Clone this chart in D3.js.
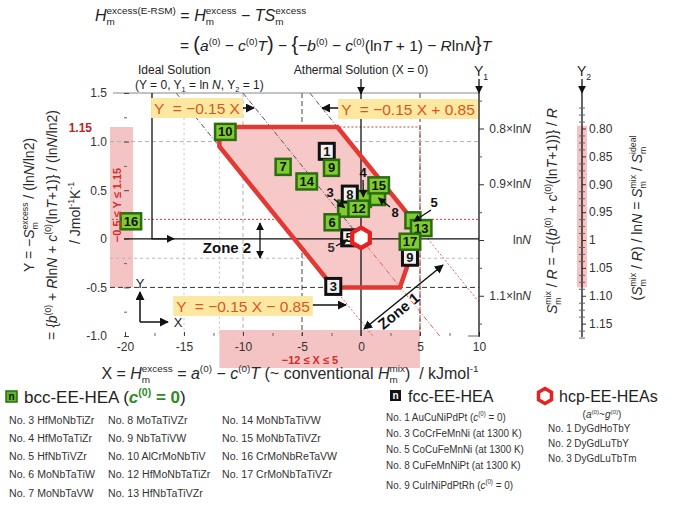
<!DOCTYPE html>
<html><head><meta charset="utf-8">
<script src="https://cdn.jsdelivr.net/npm/d3@7"></script>
<style>
body{margin:0;background:#fff}
svg{display:block}
text{font-family:"Liberation Sans",Arial,sans-serif;white-space:pre}
</style></head>
<body><svg id="c" width="680" height="506"></svg>
<script>
// ---------------- data ----------------
const xTicks = [-20, -15, -10, -5, 0, 5, 10];
const xTickLabels = ["-20", "-15", "-10", "-5", "0", "5", "10"];
const yTicks = [-1.0, -0.5, 0, 0.5, 1.0, 1.5];
const yTickLabels = ["-1.0", "-0.5", "0", "0.5", "1.0", "1.5"];
const y1Ticks = [0.8, 0.9, 1.0, 1.1];
const y1TickPrefix = ["0.8×ln", "0.9×ln", "ln", "1.1×ln"];
const y2Ticks = [0.80, 0.85, 0.90, 0.95, 1.00, 1.05, 1.10, 1.15];
const y2TickLabels = ["0.80", "0.85", "0.90", "0.95", "1", "1.05", "1.10", "1.15"];

// bcc-EE-HEA (labelled squares)
const bccNo = [16, 10, 7, 14, 9, 15, 12, 6, 13, 17];
const bccX  = [-19.5, -11.5, -6.6, -4.6, -2.5, 1.5, -0.2, -2.45, 5.1, 4.15];
const bccY  = [0.18, 1.10, 0.74, 0.59, 0.73, 0.55, 0.31, 0.17, 0.11, -0.03];
// bcc-EE-HEA hidden behind others, labelled with arrows
const bccArrowNo = [3, 4, 8, 5];
const bccArrowX  = [-1.3, 0.2, 1.4, 4.4];
const bccArrowY  = [0.31, 0.41, 0.43, 0.19];
// fcc-EE-HEA
const fccNo = [1, 8, 5, 9, 3];
const fccX  = [-2.9, -0.95, -1.0, 4.15, -2.35];
const fccY  = [0.90, 0.46, 0.01, -0.19, -0.49];
// hcp-EE-HEAs
const hcpNo = [1, 2, 3];
const hcpX  = [0, 0, 0];
const hcpY  = [0.01, 0.01, 0.01];
// EE-HEA region
const regionX = [-12, -12, -2, 5, 3.3, -2.33];
const regionY = [0.95, 1.15, 1.15, 0.1, -0.5, -0.5];
const slope = -0.15;
const intercepts = [0, 0.85, -0.85];
const xLimits = [-12, 5];
const yLimits = [-0.5, 1.15];

const bccLegend = ["No. 3 HfMoNbTiZr","No. 4 HfMoTaTiZr","No. 5 HfNbTiVZr","No. 6 MoNbTaTiW","No. 7 MoNbTaVW",
  "No. 8 MoTaTiVZr","No. 9 NbTaTiVW","No. 10 AlCrMoNbTiV","No. 12 HfMoNbTaTiZr","No. 13 HfNbTaTiVZr",
  "No. 14 MoNbTaTiVW","No. 15 MoNbTaTiVZr","No. 16 CrMoNbReTaVW","No. 17 CrMoNbTaTiVZr"];
const fccLegend = ["No. 1 AuCuNiPdPt ", "No. 3 CoCrFeMnNi (at 1300 K)", "No. 5 CoCuFeMnNi (at 1300 K)", "No. 8 CuFeMnNiPt (at 1300 K)", "No. 9 CuIrNiPdPtRh "];
const fccLegendC0 = [true, false, false, false, true];
const hcpLegend = ["No. 1 DyGdHoTbY", "No. 2 DyGdLuTbY", "No. 3 DyGdLuTbTm"];

// ---------------- setup ----------------
const svg = d3.select("#c");
const x = d3.scaleLinear().domain([-20, 10]).range([125, 479]);
const y = d3.scaleLinear().domain([-1, 1.5]).range([336, 93]);
const r = d3.scaleLinear().domain([0.8, 1.0]).range([128.5, 240]);

const RED = "#e23a32", PINK = "#f4c3c3", TXT = "#2a2a2a", ORANGE = "#db561c", YEL = "#fde8a2";

const defs = svg.append("defs");
defs.append("marker").attr("id", "ah").attr("viewBox", "0 0 10 10").attr("refX", 9).attr("refY", 5)
  .attr("markerWidth", 6).attr("markerHeight", 6).attr("orient", "auto-start-reverse")
  .append("path").attr("d", "M0,0L10,5L0,10z").attr("fill", "#111");

// rich text helper
function rich(parent, parts, fs, opt = {}) {
  const g = parent.append("g");
  let cx = 0;
  const col = opt.color || TXT;
  for (const p0 of parts) {
    const p = typeof p0 === "string" ? {t: p0} : p0;
    if (p.t !== undefined) {
      const e = g.append("text").attr("x", cx).attr("y", (p.dy || 0) * fs).attr("font-size", (p.s || 1) * fs)
        .attr("fill", p.c || col).attr("font-style", p.i ? "italic" : null)
        .attr("font-weight", (p.b || opt.bold) ? "bold" : null).text(p.t);
      cx += e.node().getComputedTextLength();
    } else {
      const ss = (p.s || 0.62) * fs; let w = 0;
      if (p.sup !== undefined) {
        const e = g.append("text").attr("x", cx).attr("y", -0.42 * fs).attr("font-size", ss).attr("fill", p.c || col)
          .attr("font-weight", (p.b || opt.bold) ? "bold" : null).text(p.sup);
        w = Math.max(w, e.node().getComputedTextLength());
      }
      if (p.sub !== undefined) {
        const e = g.append("text").attr("x", cx).attr("y", 0.26 * fs).attr("font-size", ss).attr("fill", p.c || col).text(p.sub);
        w = Math.max(w, e.node().getComputedTextLength());
      }
      cx += w;
    }
  }
  return {g, w: cx};
}
function place(parent, parts, fs, px, py, anchor, rot, opt) {
  const h = parent.append("g").attr("transform", `translate(${px},${py}) rotate(${rot || 0})`);
  const res = rich(h, parts, fs, opt);
  const off = anchor === "middle" ? -res.w / 2 : anchor === "end" ? -res.w : 0;
  res.g.attr("transform", `translate(${off},0)`);
  return res;
}

// ---------------- bands ----------------
const gb = svg.append("g");
gb.append("rect").attr("x", 110).attr("width", 23).attr("y", y(yLimits[1])).attr("height", y(yLimits[0]) - y(yLimits[1])).attr("fill", PINK);
gb.append("rect").attr("x", x(xLimits[0])).attr("width", x(xLimits[1]) - x(xLimits[0])).attr("y", 330).attr("height", 38).attr("fill", PINK);

// ---------------- grid / reference lines ----------------
const gl = svg.append("g").attr("fill", "none");
function vline(v, y0, y1, col, dash, w) {
  gl.append("line").attr("x1", x(v)).attr("x2", x(v)).attr("y1", y0).attr("y2", y1)
    .attr("stroke", col).attr("stroke-dasharray", dash).attr("stroke-width", w || 1);
}
function hline(v, x0, x1, col, dash, w) {
  gl.append("line").attr("y1", y(v)).attr("y2", y(v)).attr("x1", x0).attr("x2", x1)
    .attr("stroke", col).attr("stroke-dasharray", dash).attr("stroke-width", w || 1);
}
vline(-15, y(1.5), y(-1), "#c8c8c8", "2,3");
vline(-12, y(1.0), y(-1), "#c0c0c0", "2,3");
vline(-10, y(1.5), y(-1), "#b0b0b0", "4,3");
vline(-5, y(1.5), y(-1), "#444", "5,3");
vline(5, y(1.5), y(-1), "#444", "5,3");
hline(1.0, 110, x(10), "#b0b0b0", "4,3");
hline(-0.2, 110, x(10), "#b8b8b8", "3,3");
hline(-0.5, 110, x(10), "#333", "5,3");
hline(0.2, 112, x(10), RED, "2,2");
hline(yLimits[1], x(xLimits[0]), x(xLimits[1]), RED, "2,2");
vline(xLimits[1], y(yLimits[1]), y(-1), RED, "2,2");

// region polygon fill
const pts = regionX.map((v, i) => [x(v), y(regionY[i])]);
svg.append("path").attr("d", d3.line()(pts) + "Z").attr("fill", "#f6c8c8");

// diagonal lines
const gd = svg.append("g").attr("fill", "none");
function diag(b, X0, X1, col, dash) {
  gd.append("line").attr("x1", x(X0)).attr("y1", y(slope * X0 + b)).attr("x2", x(X1)).attr("y2", y(slope * X1 + b))
    .attr("stroke", col).attr("stroke-width", 1).attr("stroke-dasharray", dash);
}
const dk = "#555", dd = "5,2,1,2", rd = "2,2";
diag(intercepts[0], (1.5 - intercepts[0]) / slope, 0, dk, dd);
diag(intercepts[0], 0, (-1 - intercepts[0]) / slope, "#e06060", dd);
diag(intercepts[1], (1.5 - intercepts[1]) / slope, 5, dk, dd);
diag(intercepts[1], 5, 10, "#e06060", rd);
diag(intercepts[2], (1.5 - intercepts[2]) / slope, -12, dk, dd);
diag(intercepts[2], -2.33, (-1 - intercepts[2]) / slope, "#e06060", rd);

// solid axes lines
svg.append("line").attr("x1", x(0)).attr("x2", x(0)).attr("y1", y(1.5)).attr("y2", y(-1)).attr("stroke", "#111").attr("stroke-width", 1.3);
svg.append("line").attr("x1", 124).attr("x2", x(10)).attr("y1", y(0)).attr("y2", y(0)).attr("stroke", "#111").attr("stroke-width", 1.3);
svg.append("line").attr("x1", 113).attr("x2", x(10)).attr("y1", y(1.5)).attr("y2", y(1.5)).attr("stroke", "#888").attr("stroke-width", 1.2);

// polygon stroke
svg.append("path").attr("d", d3.line()(pts) + "Z").attr("fill", "none").attr("stroke", RED).attr("stroke-width", 4.5).attr("stroke-linejoin", "miter");

// ---------------- axes ----------------
const axL = svg.append("g").attr("transform", "translate(124,0)")
  .call(d3.axisLeft(y).tickValues(yTicks).tickFormat((d, i) => yTickLabels[i]).tickSizeInner(-5).tickSizeOuter(0).tickPadding(17));
axL.select(".domain").remove();
axL.selectAll("line").attr("stroke", "#444");
axL.selectAll("text").attr("font-size", 12).attr("fill", "#333").attr("font-family", "Liberation Sans, Arial");
const axLm = svg.append("g").attr("transform", "translate(124,0)")
  .call(d3.axisLeft(y).tickValues(d3.range(-0.75, 1.5, 0.5)).tickFormat("").tickSizeInner(-3).tickSizeOuter(0));
axLm.select(".domain").remove(); axLm.selectAll("line").attr("stroke", "#666");

const axB = svg.append("g").attr("transform", "translate(0,336)")
  .call(d3.axisBottom(x).tickValues(xTicks).tickFormat((d, i) => xTickLabels[i]).tickSizeInner(-4).tickSizeOuter(0).tickPadding(6));
axB.select(".domain").remove();
axB.selectAll("line").attr("stroke", "#444");
axB.selectAll("text").attr("font-size", 12).attr("fill", "#333").attr("font-family", "Liberation Sans, Arial");
const axBm = svg.append("g").attr("transform", "translate(0,336)")
  .call(d3.axisBottom(x).tickValues(d3.range(-17.5, 10, 5)).tickFormat("").tickSizeInner(-3).tickSizeOuter(0));
axBm.select(".domain").remove(); axBm.selectAll("line").attr("stroke", "#666");

// Y1 axis
const y1x = x(10);
svg.append("line").attr("x1", y1x).attr("x2", y1x).attr("y1", 93).attr("y2", 337).attr("stroke", "#111").attr("stroke-width", 1.3);
svg.append("line").attr("x1", y1x).attr("x2", y1x).attr("y1", 79).attr("y2", 93).attr("stroke", "#111").attr("stroke-width", 1.3).attr("marker-end", "url(#ah)");
const axY1 = svg.append("g").attr("transform", `translate(${y1x},0)`)
  .call(d3.axisRight(r).tickValues(y1Ticks).tickFormat("").tickSizeInner(5).tickSizeOuter(0));
axY1.select(".domain").remove(); axY1.selectAll("line").attr("stroke", "#333");
const axY1m = svg.append("g").attr("transform", `translate(${y1x},0)`)
  .call(d3.axisRight(r).tickValues([0.75, 0.85, 0.95, 1.05, 1.15]).tickFormat("").tickSizeInner(3).tickSizeOuter(0));
axY1m.select(".domain").remove(); axY1m.selectAll("line").attr("stroke", "#555");
y1Ticks.forEach((v, i) => place(svg, [y1TickPrefix[i], {t: "N", i: 1}], 12, 531, r(v) + 4, "end", 0, {color: "#333"}));
svg.append("line").attr("x1", y1x - 11).attr("x2", y1x).attr("y1", 336).attr("y2", 336).attr("stroke", "#666");

// Y2 axis
const y2x = 582;
svg.append("rect").attr("x", y2x - 5).attr("width", 10).attr("y", r(0.795)).attr("height", r(1.085) - r(0.795)).attr("fill", PINK);
svg.append("line").attr("x1", y2x).attr("x2", y2x).attr("y1", 93).attr("y2", 337).attr("stroke", "#111").attr("stroke-width", 1.3);
svg.append("line").attr("x1", y2x).attr("x2", y2x).attr("y1", 79).attr("y2", 93).attr("stroke", "#111").attr("stroke-width", 1.3).attr("marker-end", "url(#ah)");
const axY2 = svg.append("g").attr("transform", `translate(${y2x},0)`)
  .call(d3.axisRight(r).tickValues(y2Ticks).tickFormat((d, i) => y2TickLabels[i]).tickSizeInner(4).tickSizeOuter(0).tickPadding(3));
axY2.select(".domain").remove(); axY2.selectAll("line").attr("stroke", "#333");
axY2.selectAll("text").attr("font-size", 12).attr("fill", "#333").attr("font-family", "Liberation Sans, Arial");
const minorR = d3.range(0.7625, 1.18, 0.0125).filter(v => Math.abs(v * 20 - Math.round(v * 20)) > 1e-6);
[3, -3].forEach(s => {
  const a = svg.append("g").attr("transform", `translate(${y2x},0)`)
    .call((s > 0 ? d3.axisRight(r) : d3.axisLeft(r)).tickValues(minorR).tickFormat("").tickSizeInner(3).tickSizeOuter(0));
  a.select(".domain").remove(); a.selectAll("line").attr("stroke", "#666");
});

// ---------------- markers ----------------
const gm = svg.append("g");
function sq(cx, cy, label, kind, showLabel = true) {
  const g = gm.append("g");
  const t = g.append("text").attr("x", cx).attr("y", cy + 4.6).attr("text-anchor", "middle")
    .attr("font-size", 13).attr("font-weight", "bold").attr("fill", "#111").text(showLabel ? label : "");
  const w = Math.max(15, (showLabel ? t.node().getComputedTextLength() : 0) + 6);
  g.insert("rect", "text").attr("x", cx - w / 2).attr("y", cy - 8).attr("width", w).attr("height", 16)
    .attr("fill", kind === "bcc" ? "#7fcc30" : "#f2f2f2")
    .attr("stroke", kind === "bcc" ? "#2b6c12" : "#111").attr("stroke-width", kind === "bcc" ? 2.5 : 3);
}
bccArrowNo.forEach((n, i) => sq(x(bccArrowX[i]), y(bccArrowY[i]), String(n), "bcc", false));
fccNo.forEach((n, i) => sq(x(fccX[i]), y(fccY[i]), String(n), "fcc"));
bccNo.forEach((n, i) => sq(x(bccX[i]), y(bccY[i]), String(n), "bcc"));
function hexPts(cx, cy, rad) {
  return d3.range(6).map(k => { const a = (-90 + 60 * k) * Math.PI / 180; return [cx + rad * Math.cos(a), cy + rad * Math.sin(a)]; });
}
hcpNo.forEach((n, i) => {
  gm.append("path").attr("d", d3.line()(hexPts(x(hcpX[i]), y(hcpY[i]), 10)) + "Z")
    .attr("fill", "#fff").attr("stroke", "#e8201e").attr("stroke-width", 4);
});

// arrow labels for hidden markers
const ga = svg.append("g");
function arrow(x1, y1, x2, y2, w, both) {
  ga.append("line").attr("x1", x1).attr("y1", y1).attr("x2", x2).attr("y2", y2).attr("stroke", "#111")
    .attr("stroke-width", w || 1.3).attr("marker-end", "url(#ah)").attr("marker-start", both ? "url(#ah)" : null);
}
function lab(t, px, py, col) {
  ga.append("text").attr("x", px).attr("y", py).attr("text-anchor", "middle").attr("font-size", 13)
    .attr("font-weight", "bold").attr("fill", col || "#111").text(t);
}
lab("3", 330, 197); arrow(334, 199, x(bccArrowX[0]) - 1, y(bccArrowY[0]) - 1);
lab("4", 363, 177); arrow(363, 180, x(bccArrowX[1]), y(bccArrowY[1]) - 2);
lab("8", 395, 217); arrow(390, 207, x(bccArrowX[2]) + 1, y(bccArrowY[2]) + 1);
lab("5", 434, 207); arrow(431, 210, x(bccArrowX[3]) + 1, y(bccArrowY[3]) + 1);
lab("5", 331, 252, "#333"); arrow(336, 246, x(fccX[2]) - 2, y(fccY[2]) + 2);

// ---------------- annotations ----------------
ga.append("path").attr("d", `M152,${y(1.5)}V${y(0)}H174`).attr("fill", "none").attr("stroke", "#111")
  .attr("stroke-width", 1.3).attr("marker-end", "url(#ah)");
arrow(x(0), 79, x(0), 94);
arrow(260, 223, 260, 258, 1.3, true);
ga.append("text").attr("x", 227).attr("y", 253).attr("text-anchor", "middle").attr("font-size", 15).attr("font-weight", "bold").attr("fill", "#111").text("Zone 2");
arrow(364, 329, 443, 265, 1.5, true);
ga.append("text").attr("transform", "translate(402,315) rotate(-39)").attr("text-anchor", "middle").attr("font-size", 15).attr("font-weight", "bold").attr("fill", "#111").text("Zone 1");
arrow(140, 322, 140, 292, 1.5);
arrow(140, 322, 168, 322, 1.5);
ga.append("text").attr("x", 140).attr("y", 288).attr("text-anchor", "middle").attr("font-size", 13).attr("fill", "#222").text("Y");
ga.append("text").attr("x", 178).attr("y", 327).attr("text-anchor", "middle").attr("font-size", 13).attr("fill", "#222").text("X");

function ylab(txt, cx, cy) {
  const g = svg.append("g");
  const t = g.append("text").attr("x", cx).attr("y", cy + 5.5).attr("text-anchor", "middle").attr("font-size", 15.5).attr("fill", ORANGE).text(txt);
  const w = t.node().getComputedTextLength() + 6;
  g.insert("rect", "text").attr("x", cx - w / 2).attr("y", cy - 10).attr("width", w).attr("height", 20).attr("fill", YEL);
}
ylab("Y  = −0.15 X", 197, 108); arrow(240, 108, 254, 108, 1.5);
ylab("Y  = −0.15 X + 0.85", 408, 109); arrow(343, 108, 322, 108, 1.5);
ylab("Y  = −0.15 X − 0.85", 243, 306); arrow(308, 305, 346, 305, 1.5);

// band labels
svg.append("text").attr("x", 92).attr("y", 132).attr("text-anchor", "end").attr("font-size", 12).attr("font-weight", "bold").attr("fill", "#c42020").text("1.15");
svg.append("text").attr("transform", "translate(121,205) rotate(-90)").attr("text-anchor", "middle").attr("font-size", 11).attr("font-weight", "bold").attr("fill", "#d42a2a").text("−0.5 ≤ Y ≤ 1.15");
svg.append("text").attr("x", 310).attr("y", 364).attr("text-anchor", "middle").attr("font-size", 11).attr("font-weight", "bold").attr("fill", "#d42a2a").text("−12 ≤ X ≤ 5");

// headings
svg.append("text").attr("x", 138).attr("y", 74).attr("font-size", 12).attr("fill", "#222").text("Ideal Solution");
place(svg, ["(Y = 0, Y", {sub: "1"}, " = ln ", {t: "N", i: 1}, ", Y", {sub: "2"}, " = 1)"], 12, 135, 89, "start", 0, {color: "#222"});
svg.append("text").attr("x", x(0)).attr("y", 74).attr("text-anchor", "middle").attr("font-size", 12).attr("fill", "#222").text("Athermal Solution (X = 0)");
place(svg, ["Y", {sub: "1"}], 14, y1x - 5, 76, "start", 0, {color: "#222"});
place(svg, ["Y", {sub: "2"}], 14, y2x - 5, 76, "start", 0, {color: "#222"});

// top formula
place(svg, [{t: "H", i: 1}, {sup: "excess(E-RSM)", sub: "m"}, " = ", {t: "H", i: 1}, {sup: "excess", sub: "m"}, " − ", {t: "TS", i: 1}, {sup: "excess", sub: "m"}], 16, 95, 21, "start", 0, {color: "#222"});
place(svg, ["= ", {t: "(", s: 1.3}, {t: "a", i: 1}, {sup: "(0)"}, " − ", {t: "c", i: 1}, {sup: "(0)"}, {t: "T", i: 1}, {t: ")", s: 1.3}, " − ", {t: "{", s: 1.3}, "−", {t: "b", i: 1}, {sup: "(0)"}, " − ", {t: "c", i: 1}, {sup: "(0)"}, "(ln", {t: "T", i: 1}, " + 1) − ", {t: "R", i: 1}, "ln", {t: "N", i: 1}, {t: "}", s: 1.3}, {t: "T", i: 1}], 15.5, 180, 51, "start", 0, {color: "#222"});

// axis titles
place(svg, ["Y = −", {t: "S", i: 1}, {sup: "excess", sub: "m"}, " / (ln", {t: "N", i: 1}, "/ln2)"], 14, 34, 205, "middle", -90);
place(svg, ["= {", {t: "b", i: 1}, {sup: "(0)"}, " + ", {t: "R", i: 1}, "ln", {t: "N", i: 1}, " + ", {t: "c", i: 1}, {sup: "(0)"}, "(ln", {t: "T", i: 1}, "+1)} / (ln", {t: "N", i: 1}, "/ln2)"], 14, 57, 225, "middle", -90);
place(svg, ["/ Jmol", {sup: "-1"}, "K", {sup: "-1"}], 14, 80, 213, "middle", -90);
place(svg, [{t: "S", i: 1}, {sup: "mix", sub: "m"}, " / ", {t: "R", i: 1}, " = −{(", {t: "b", i: 1}, {sup: "(0)"}, " + ", {t: "c", i: 1}, {sup: "(0)"}, "(ln", {t: "T", i: 1}, "+1))} / ", {t: "R", i: 1}], 14, 557, 211, "middle", -90);
place(svg, ["(", {t: "S", i: 1}, {sup: "mix", sub: "m"}, " / ", {t: "R", i: 1}, ") / ln", {t: "N", i: 1}, " = ", {t: "S", i: 1}, {sup: "mix", sub: "m"}, " / ", {t: "S", i: 1}, {sup: "ideal", sub: "m"}], 14, 642, 218, "middle", -90);
place(svg, ["X = ", {t: "H", i: 1}, {sup: "excess", sub: "m"}, " = ", {t: "a", i: 1}, {sup: "(0)"}, " − ", {t: "c", i: 1}, {sup: "(0)"}, {t: "T", i: 1}, " (~ conventional ", {t: "H", i: 1}, {sup: "mix", sub: "m"}, ")  / kJmol", {sup: "-1"}], 16, 290, 379, "middle", 0);

// ---------------- legend ----------------
const lg = svg.append("g");
lg.append("rect").attr("x", 6).attr("y", 391).attr("width", 11).attr("height", 11).attr("fill", "#5fb52a").attr("stroke", "#2b6c12").attr("stroke-width", 1.5);
lg.append("text").attr("x", 11.5).attr("y", 400).attr("text-anchor", "middle").attr("font-size", 10).attr("font-weight", "bold").attr("fill", "#111").text("n");
place(lg, ["bcc-EE-HEA (", {t: "c", i: 1, c: "#2e8b1e", b: 1}, {sup: "(0)", c: "#2e8b1e", b: 1}, {t: " = 0", c: "#2e8b1e", b: 1}, ")"], 17, 24, 403, "start", 0, {color: "#222"});
const colX = [9, 108, 222];
const rowY = [424, 442, 460, 478, 497];
bccLegend.forEach((s, i) => {
  const c = Math.floor(i / 5), rr = i % 5;
  lg.append("text").attr("transform", `translate(${colX[c]},${rowY[rr]}) scale(0.92,1)`).attr("font-size", 11.5).attr("fill", "#333").text(s);
});
lg.append("rect").attr("x", 390).attr("y", 390).attr("width", 11).attr("height", 11).attr("fill", "#111");
lg.append("text").attr("x", 395.5).attr("y", 399).attr("text-anchor", "middle").attr("font-size", 10).attr("font-weight", "bold").attr("fill", "#fff").text("n");
lg.append("text").attr("x", 408).attr("y", 402).attr("font-size", 16).attr("fill", "#222").text("fcc-EE-HEA");
const fRow = [421, 437, 453, 469, 489];
fccLegend.forEach((s, i) => {
  const h = lg.append("g").attr("transform", `translate(386,${fRow[i]}) scale(0.86,1)`);
  const parts = [s];
  if (fccLegendC0[i]) parts.push("(", {t: "c", i: 1}, {sup: "(0)"}, " = 0)");
  rich(h, parts, 11.5, {color: "#333"});
});
lg.append("path").attr("d", d3.line()(hexPts(545, 396, 7.5)) + "Z").attr("fill", "#fff").attr("stroke", "#e8201e").attr("stroke-width", 3.5);
lg.append("text").attr("x", 559).attr("y", 402).attr("font-size", 16).attr("fill", "#222").text("hcp-EE-HEAs");
place(lg, ["(", {t: "a", i: 1}, {sup: "(0)"}, "~", {t: "g", i: 1}, {sup: "(0)"}, ")"], 10, 602, 418, "middle", 0, {color: "#333"});
const hRow = [432, 447, 462];
hcpLegend.forEach((s, i) => {
  lg.append("text").attr("transform", `translate(548,${hRow[i]}) scale(0.86,1)`).attr("font-size", 11.5).attr("fill", "#333").text(s);
});
</script></body></html>
